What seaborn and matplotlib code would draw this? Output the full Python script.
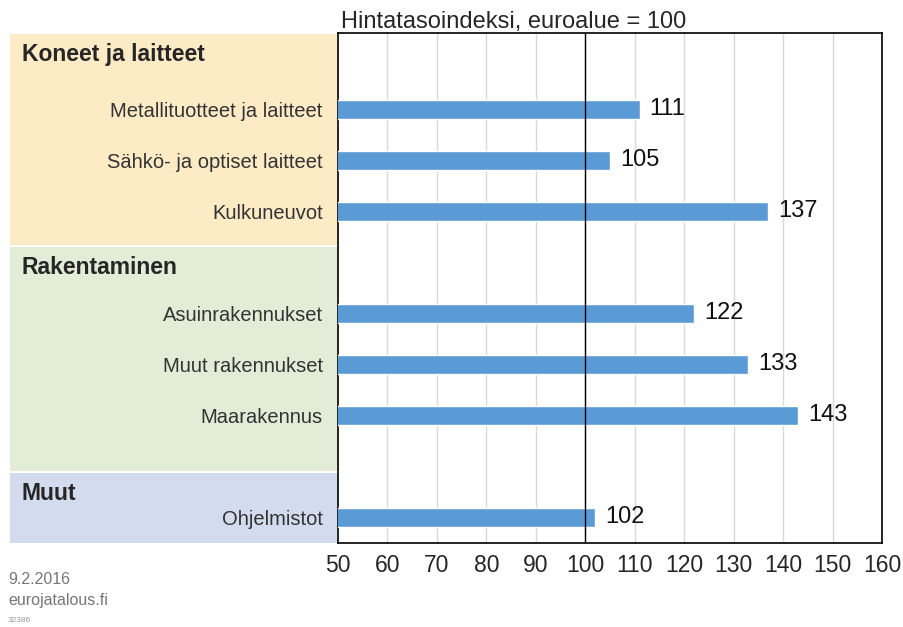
import matplotlib
matplotlib.use("Agg")
import matplotlib.pyplot as plt
from matplotlib.patches import Rectangle
import pandas as pd
import seaborn as sns

# data
categories = ["Metallituotteet ja laitteet", "Sähkö- ja optiset laitteet", "Kulkuneuvot",
              "Asuinrakennukset", "Muut rakennukset", "Maarakennus", "Ohjelmistot"]
values = [111, 105, 137, 122, 133, 143, 102]
row_index = [1, 2, 3, 5, 6, 7, 9]   # rows 0, 4, 8 hold the group headers
groups = ["Koneet ja laitteet", "Rakentaminen", "Muut"]
group_colors = ["#FDEBC5", "#E2ECD6", "#D3DCEE"]
xticks = [50, 60, 70, 80, 90, 100, 110, 120, 130, 140, 150, 160]

df = pd.DataFrame({"category": categories, "value": values, "row": row_index})

sns.set_style("white")
plt.rcParams["font.family"] = ["Liberation Sans", "DejaVu Sans"]

W, H = 904, 627
fig = plt.figure(figsize=(W / 100, H / 100), dpi=100)
ax = fig.add_axes([338 / W, 1 - 543 / H, (882 - 338) / W, (543 - 33) / H])
ax.patch.set_alpha(0)

sns.barplot(data=df, x="value", y="row", orient="h", native_scale=True,
            color="#5B9BD5", saturation=1, width=0.36, ax=ax, zorder=3)

ax.set_xlim(50, 160)
ax.set_ylim(9.5, -0.5)
ax.set_xticks(xticks)
ax.set_xticklabels([str(t) for t in xticks], fontsize=16.5)
ax.set_yticks(row_index)
ax.set_yticklabels(categories, fontsize=14.5, color="#333333")
ax.tick_params(axis="x", length=0, pad=8)
ax.tick_params(axis="y", length=0, pad=11)
ax.set_xlabel("")
ax.set_ylabel("")
for x in xticks[1:-1]:
    ax.axvline(x, color="#D9D9D9", lw=1, zorder=1)
ax.axvline(100, color="black", lw=1, zorder=4)
for s in ax.spines.values():
    s.set_color("black")
    s.set_linewidth(1.2)

for r, v in zip(row_index, values):
    ax.text(v + 2, r, str(v), va="center", ha="left", fontsize=17, color="#111111")

ax.text(0.005, 1.0, "Hintatasoindeksi, euroalue = 100", transform=ax.transAxes,
        fontsize=17, ha="left", va="bottom")

# group boxes at the left
boxes = [(34, 245), (247, 471), (473, 543)]
for (top, bottom), name, col in zip(boxes, groups, group_colors):
    fig.patches.append(Rectangle((10 / W, 1 - bottom / H), (337 - 10) / W, (bottom - top) / H,
                                 transform=fig.transFigure, facecolor=col, edgecolor="none", zorder=-1))
    fig.text(22 / W, 1 - (top + 21) / H, name, fontsize=16.5, fontweight="bold", va="center", ha="left")

fig.text(8 / W, 1 - 580 / H, "9.2.2016", fontsize=11.5, color="#777777", va="center")
fig.text(8 / W, 1 - 600 / H, "eurojatalous.fi", fontsize=11.5, color="#777777", va="center")
fig.text(8 / W, 1 - 620 / H, "32386", fontsize=6, color="#999999", va="center")

fig.savefig("out.png", dpi=100)
